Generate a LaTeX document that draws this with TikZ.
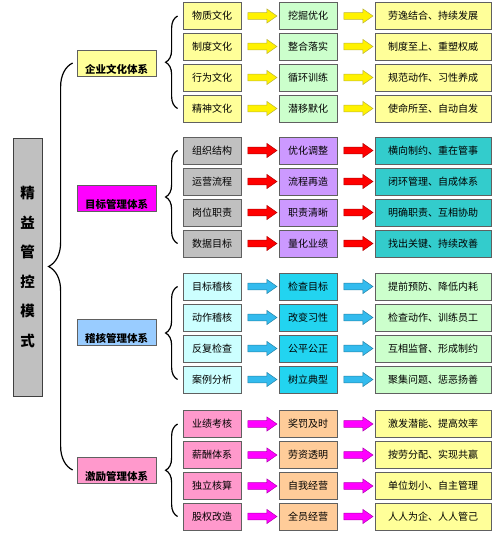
\documentclass[tikz,border=0pt]{standalone}
\usepackage{fontspec}
\setmainfont{Noto Sans CJK SC}
\usetikzlibrary{shapes.arrows,decorations.pathreplacing,calc}
\definecolor{lyellow}{HTML}{FFFF99}
\definecolor{lgreen}{HTML}{CCFFCC}
\definecolor{lgray}{HTML}{C0C0C0}
\definecolor{lviolet}{HTML}{CC99FF}
\definecolor{tealbox}{HTML}{33CCCC}
\definecolor{magbox}{HTML}{FF00FF}
\definecolor{lblue}{HTML}{99CCFF}
\definecolor{lcyan}{HTML}{CCFFFF}
\definecolor{skybox}{HTML}{22D4F0}
\definecolor{lpink}{HTML}{FF99CC}
\definecolor{lpeach}{HTML}{FFCC99}
\definecolor{boxline}{HTML}{606060}
\definecolor{arrblue}{HTML}{33BBEE}
\begin{document}
\begin{tikzpicture}[x=1pt, y=-1pt,
  box/.style={draw=boxline, line width=0.8pt, minimum height=27pt, inner sep=0pt, font=\fontsize{10}{12}\selectfont},
  sbox/.style={box, minimum width=58pt},
  wbox/.style={box, minimum width=116pt},
  cat/.style={draw=boxline, line width=0.8pt, minimum width=79pt, minimum height=26pt, inner sep=0pt, text height=20pt, text depth=0pt, font=\fontsize{10.5}{12}\selectfont\bfseries},
  arr/.style={single arrow, draw=#1!70!black, fill=#1, line width=0.5pt, inner sep=3.2pt, single arrow head extend=3.6pt, single arrow tip angle=70, minimum height=29pt},
  curly/.style={decorate, decoration={brace, amplitude=#1}, line width=1.2pt}
]
\useasboundingbox (0,0) rectangle (500,538);

\node[draw=black!75, line width=0.8pt, fill=lgray, minimum width=29pt, minimum height=258pt, inner sep=0pt, align=center, font=\fontsize{14.5}{29.5}\selectfont\bfseries] (jy) at (27.5,267){精\\益\\管\\控\\模\\式};

\node[cat, fill=lyellow] (wh) at (116.5,63){企业文化体系};
\node[cat, fill=magbox] (mb) at (116.5,198){目标管理体系};
\node[cat, fill=lblue] (jh) at (116.5,332.5){稽核管理体系};
\node[cat, fill=lpink] (jl) at (116.5,470){激励管理体系};
\draw[curly=24pt] ([xshift=-4pt]jl.west) -- ([xshift=-4pt]wh.west);

% culture
\node[sbox, fill=lyellow] (wh1) at (212,16){物质文化};
\node[sbox, fill=lgreen] (wh1m) at (308,16){挖掘优化};
\node[wbox, fill=lyellow] (wh1r) at (433,16){劳逸结合、持续发展};
\node[sbox, fill=lyellow] (wh2) at (212,46.5){制度文化};
\node[sbox, fill=lgreen] (wh2m) at (308,46.5){整合落实};
\node[wbox, fill=lyellow] (wh2r) at (433,46.5){制度至上、重塑权威};
\node[sbox, fill=lyellow] (wh3) at (212,77.5){行为文化};
\node[sbox, fill=lgreen] (wh3m) at (308,77.5){循环训练};
\node[wbox, fill=lyellow] (wh3r) at (433,77.5){规范动作、习性养成};
\node[sbox, fill=lyellow] (wh4) at (212,108.5){精神文化};
\node[sbox, fill=lgreen] (wh4m) at (308,108.5){潜移默化};
\node[wbox, fill=lyellow] (wh4r) at (433,108.5){使命所至、自动自发};
\node[arr=yellow] at ($(wh1.east)!.5!(wh1m.west)$){};
\node[arr=yellow] at ($(wh1m.east)!.5!(wh1r.west)$){};
\node[arr=yellow] at ($(wh2.east)!.5!(wh2m.west)$){};
\node[arr=yellow] at ($(wh2m.east)!.5!(wh2r.west)$){};
\node[arr=yellow] at ($(wh3.east)!.5!(wh3m.west)$){};
\node[arr=yellow] at ($(wh3m.east)!.5!(wh3r.west)$){};
\node[arr=yellow] at ($(wh4.east)!.5!(wh4m.west)$){};
\node[arr=yellow] at ($(wh4m.east)!.5!(wh4r.west)$){};
\draw[curly=12pt] ([xshift=-5pt]wh4.west) -- ([xshift=-5pt]wh1.west);

% targets
\node[sbox, fill=lgray] (mb1) at (212,150.5){组织结构};
\node[sbox, fill=lviolet] (mb1m) at (308,150.5){优化调整};
\node[wbox, fill=tealbox] (mb1r) at (433,150.5){横向制约、重在管事};
\node[sbox, fill=lgray] (mb2) at (212,181.5){运营流程};
\node[sbox, fill=lviolet] (mb2m) at (308,181.5){流程再造};
\node[wbox, fill=tealbox] (mb2r) at (433,181.5){闭环管理、自成体系};
\node[sbox, fill=lgray] (mb3) at (212,212.5){岗位职责};
\node[sbox, fill=lviolet] (mb3m) at (308,212.5){职责清晰};
\node[wbox, fill=tealbox] (mb3r) at (433,212.5){明确职责、互相协助};
\node[sbox, fill=lgray] (mb4) at (212,243.5){数据目标};
\node[sbox, fill=lviolet] (mb4m) at (308,243.5){量化业绩};
\node[wbox, fill=tealbox] (mb4r) at (433,243.5){找出关键、持续改善};
\node[arr=red] at ($(mb1.east)!.5!(mb1m.west)$){};
\node[arr=red] at ($(mb1m.east)!.5!(mb1r.west)$){};
\node[arr=red] at ($(mb2.east)!.5!(mb2m.west)$){};
\node[arr=red] at ($(mb2m.east)!.5!(mb2r.west)$){};
\node[arr=red] at ($(mb3.east)!.5!(mb3m.west)$){};
\node[arr=red] at ($(mb3m.east)!.5!(mb3r.west)$){};
\node[arr=red] at ($(mb4.east)!.5!(mb4m.west)$){};
\node[arr=red] at ($(mb4m.east)!.5!(mb4r.west)$){};
\draw[curly=12pt] ([xshift=-5pt]mb4.west) -- ([xshift=-5pt]mb1.west);

% audit
\node[sbox, fill=lcyan] (jh1) at (212,286.5){目标稽核};
\node[sbox, fill=skybox] (jh1m) at (308,286.5){检查目标};
\node[wbox, fill=lgreen] (jh1r) at (433,286.5){提前预防、降低内耗};
\node[sbox, fill=lcyan] (jh2) at (212,317.5){动作稽核};
\node[sbox, fill=skybox] (jh2m) at (308,317.5){改变习性};
\node[wbox, fill=lgreen] (jh2r) at (433,317.5){检查动作、训练员工};
\node[sbox, fill=lcyan] (jh3) at (212,348.5){反复检查};
\node[sbox, fill=skybox] (jh3m) at (308,348.5){公平公正};
\node[wbox, fill=lgreen] (jh3r) at (433,348.5){互相监督、形成制约};
\node[sbox, fill=lcyan] (jh4) at (212,379.5){案例分析};
\node[sbox, fill=skybox] (jh4m) at (308,379.5){树立典型};
\node[wbox, fill=lgreen] (jh4r) at (433,379.5){聚集问题、惩恶扬善};
\node[arr=arrblue] at ($(jh1.east)!.5!(jh1m.west)$){};
\node[arr=arrblue] at ($(jh1m.east)!.5!(jh1r.west)$){};
\node[arr=arrblue] at ($(jh2.east)!.5!(jh2m.west)$){};
\node[arr=arrblue] at ($(jh2m.east)!.5!(jh2r.west)$){};
\node[arr=arrblue] at ($(jh3.east)!.5!(jh3m.west)$){};
\node[arr=arrblue] at ($(jh3m.east)!.5!(jh3r.west)$){};
\node[arr=arrblue] at ($(jh4.east)!.5!(jh4m.west)$){};
\node[arr=arrblue] at ($(jh4m.east)!.5!(jh4r.west)$){};
\draw[curly=12pt] ([xshift=-5pt]jh4.west) -- ([xshift=-5pt]jh1.west);

% rewards
\node[sbox, fill=lpink] (jl1) at (212,424){业绩考核};
\node[sbox, fill=lpeach] (jl1m) at (308,424){奖罚及时};
\node[wbox, fill=lyellow] (jl1r) at (433,424){激发潜能、提高效率};
\node[sbox, fill=lpink] (jl2) at (212,455){薪酬体系};
\node[sbox, fill=lpeach] (jl2m) at (308,455){劳资透明};
\node[wbox, fill=lyellow] (jl2r) at (433,455){按劳分配、实现共赢};
\node[sbox, fill=lpink] (jl3) at (212,486){独立核算};
\node[sbox, fill=lpeach] (jl3m) at (308,486){自我经营};
\node[wbox, fill=lyellow] (jl3r) at (433,486){单位划小、自主管理};
\node[sbox, fill=lpink] (jl4) at (212,516.5){股权改造};
\node[sbox, fill=lpeach] (jl4m) at (308,516.5){全员经营};
\node[wbox, fill=lyellow] (jl4r) at (433,516.5){人人为企、人人管己};
\node[arr=magbox] at ($(jl1.east)!.5!(jl1m.west)$){};
\node[arr=magbox] at ($(jl1m.east)!.5!(jl1r.west)$){};
\node[arr=magbox] at ($(jl2.east)!.5!(jl2m.west)$){};
\node[arr=magbox] at ($(jl2m.east)!.5!(jl2r.west)$){};
\node[arr=magbox] at ($(jl3.east)!.5!(jl3m.west)$){};
\node[arr=magbox] at ($(jl3m.east)!.5!(jl3r.west)$){};
\node[arr=magbox] at ($(jl4.east)!.5!(jl4m.west)$){};
\node[arr=magbox] at ($(jl4m.east)!.5!(jl4r.west)$){};
\draw[curly=12pt] ([xshift=-5pt]jl4.west) -- ([xshift=-5pt]jl1.west);

\end{tikzpicture}
\end{document}
